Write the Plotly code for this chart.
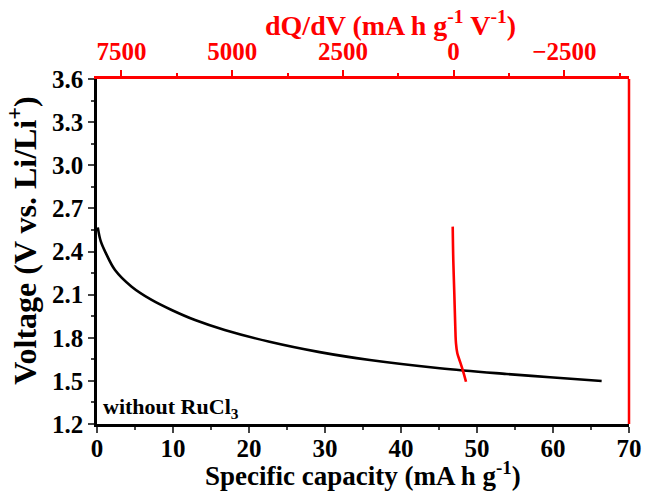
import plotly.graph_objects as go

# Discharge profile: specific capacity (mA h g-1) vs voltage (V)
capacity = [0.1, 0.5, 1.18, 2.37, 4.56, 7.19, 9.82, 12.9, 16.8, 22.7, 29.3,
            35.9, 45.1, 53.9, 59.6, 66.4]
voltage = [2.568, 2.47, 2.387, 2.271, 2.155, 2.063, 1.993, 1.923, 1.854, 1.772,
           1.700, 1.645, 1.588, 1.548, 1.525, 1.499]

# Differential capacity curve: dQ/dV (mA h g-1 V-1) vs voltage (V)
dqdv = [20, 7, -16, -38, -54, -84, -145, -205, -280]
dqdv_voltage = [2.573, 2.341, 2.109, 1.877, 1.761, 1.692, 1.634, 1.576, 1.494]

x_ticks = [0, 10, 20, 30, 40, 50, 60, 70]
y_ticks = [1.2, 1.5, 1.8, 2.1, 2.4, 2.7, 3.0, 3.3, 3.6]
top_ticks = [7500, 5000, 2500, 0, -2500]
top_labels = ["7500", "5000", "2500", "0", "\u22122500"]

FONT = "Liberation Serif"
RED = "#ff0000"
TICK_SIZE = 25


def bold(labels):
    return [f"<b>{t}</b>" for t in labels]


fig = go.Figure()
fig.add_trace(go.Scatter(x=capacity, y=voltage, mode="lines",
                         line=dict(color="black", width=2.6, shape="spline"),
                         xaxis="x", yaxis="y", showlegend=False))
fig.add_trace(go.Scatter(x=dqdv, y=dqdv_voltage, mode="lines",
                         line=dict(color=RED, width=2.6, shape="spline"),
                         xaxis="x2", yaxis="y", showlegend=False))

fig.update_layout(
    width=645, height=491,
    margin=dict(l=97, r=16, t=79, b=67),
    plot_bgcolor="white", paper_bgcolor="white",
    font=dict(family=FONT, color="black", size=TICK_SIZE),
    xaxis=dict(
        range=[0, 70], tickvals=x_ticks, ticktext=bold(x_ticks), automargin=False,
        ticks="outside", ticklen=6, tickwidth=2, ticklabelstandoff=-6,
        showline=True, linecolor="black", linewidth=2.5, showgrid=False, zeroline=False,
        minor=dict(ticks="outside", ticklen=3, tickwidth=2, dtick=5, showgrid=False),
        tickfont=dict(size=TICK_SIZE, family=FONT),
    ),
    yaxis=dict(
        range=[1.2, 3.6], tickvals=y_ticks, automargin=False,
        ticktext=bold([f"{v:.1f}" for v in y_ticks]),
        ticks="outside", ticklen=6, tickwidth=2,
        showline=True, linecolor="black", linewidth=2.5,
        showgrid=False, zeroline=False,
        minor=dict(ticks="outside", ticklen=3, tickwidth=2, dtick=0.15, showgrid=False),
        tickfont=dict(size=TICK_SIZE, family=FONT),
    ),
    xaxis2=dict(
        overlaying="x", side="top", anchor="y", automargin=False,
        range=[8053, -3961], tickvals=top_ticks, ticktext=bold(top_labels),
        ticks="outside", ticklen=6, tickwidth=2, tickcolor=RED,
        showline=True, linecolor=RED, linewidth=2.5, showgrid=False, zeroline=False,
        minor=dict(ticks="outside", ticklen=3, tickwidth=2, dtick=1250,
                   tickcolor=RED, showgrid=False),
        tickfont=dict(size=TICK_SIZE, family=FONT, color=RED),
    ),
    shapes=[dict(type="line", xref="paper", yref="paper", x0=1, x1=1, y0=0, y1=1,
                 line=dict(color=RED, width=2.5))],
    annotations=[
        # axis titles
        dict(text="<b>Specific capacity (mA h g<sup>-1</sup>)</b>",
             xref="paper", yref="paper", x=0.5, y=-0.145,
             xanchor="center", yanchor="middle", showarrow=False,
             font=dict(size=27, family=FONT, color="black")),
        dict(text="<b>Voltage (V vs. Li/Li<sup>+</sup>)</b>", textangle=-90,
             xref="paper", yref="paper", x=-0.14, y=0.53,
             xanchor="center", yanchor="middle", showarrow=False,
             font=dict(size=32, family=FONT, color="black")),
        dict(text="<b>dQ/dV (mA h g<sup>-1</sup> V<sup>-1</sup>)</b>",
             xref="paper", yref="paper", x=0.551, y=1.16,
             xanchor="center", yanchor="middle", showarrow=False,
             font=dict(size=28, family=FONT, color=RED)),
        # sample label
        dict(text="<b>without RuCl<sub>3</sub></b>", xref="paper", yref="paper",
             x=0.008, y=0.0, xanchor="left", yanchor="bottom", showarrow=False,
             font=dict(size=22, family=FONT, color="black")),
    ],
)

fig.write_html("out.html")
